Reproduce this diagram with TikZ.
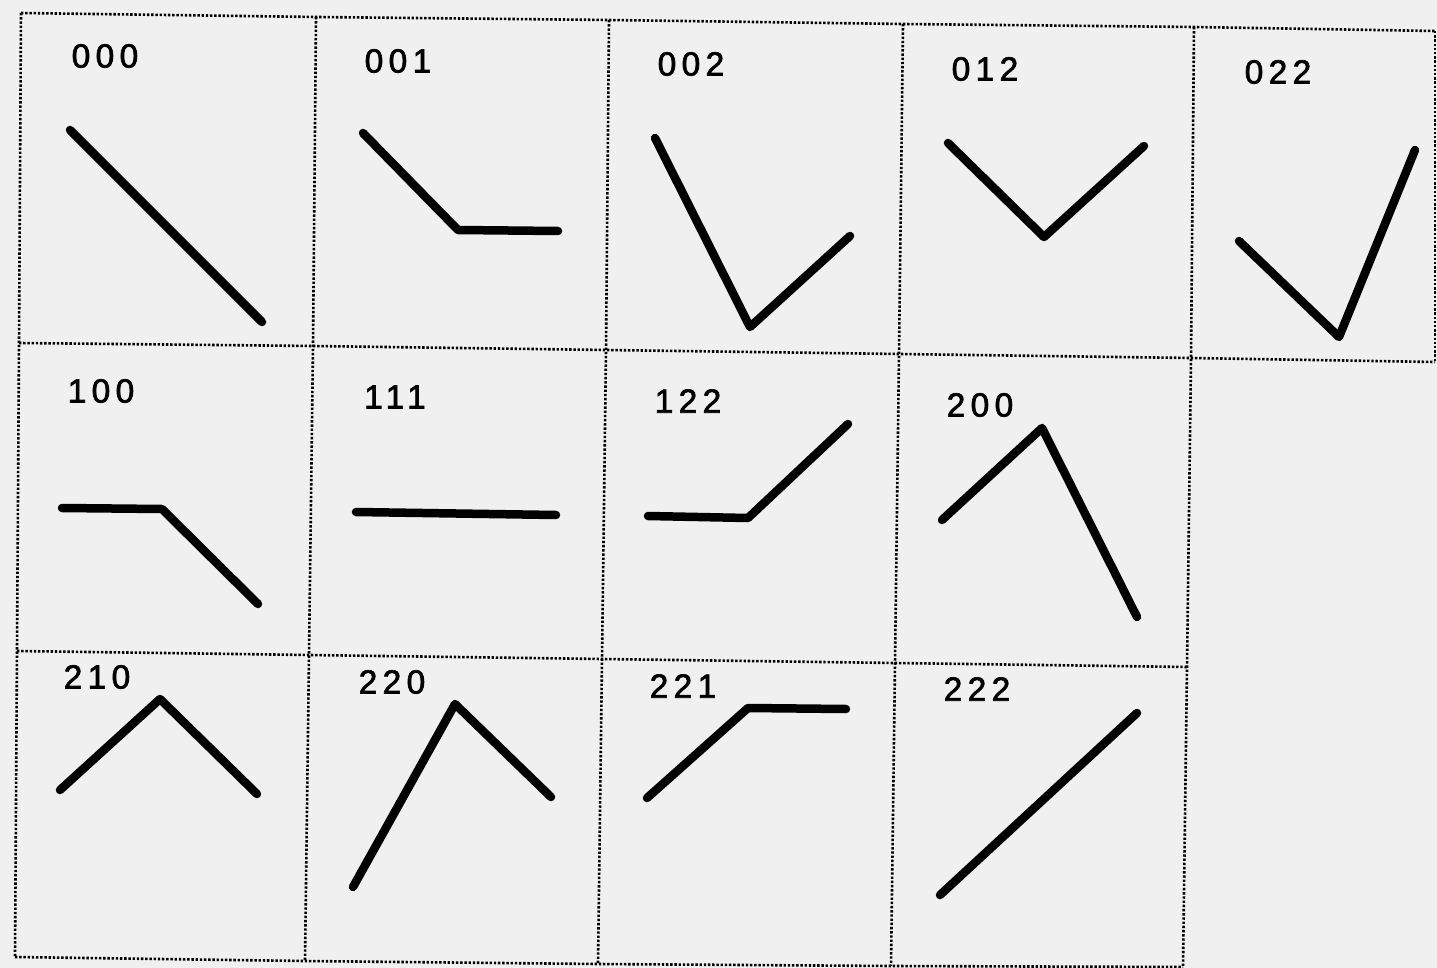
\documentclass[tikz,border=0pt]{standalone}
\usepackage{fontspec}
\newfontfamily\codefont[LetterSpace=16,FakeBold=2]{Liberation Sans}

\begin{document}
\begin{tikzpicture}[x=1pt, y=-1pt,
    every node/.style={inner sep=0pt, outer sep=0pt},
    paper/.style   ={fill=black!6},
    cellrule/.style={draw=black, line width=2.6pt, dash pattern=on 2.4pt off 1.8pt},
    trace/.style   ={draw=black, line width=8.5pt, line cap=round, line join=round},
    codelbl/.style ={font=\codefont\fontsize{33.5}{40}\selectfont}]

\useasboundingbox (0,0) rectangle (1437,968);
\fill[paper] (0,0) rectangle (1437,968);

% ── grid corners (the scan is turned a little) ─────────────────────────
\coordinate (r0c0) at (21,13);   \coordinate (r0c1) at (316,17);
\coordinate (r0c2) at (609,20);  \coordinate (r0c3) at (903,24);
\coordinate (r0c4) at (1194,27); \coordinate (r0c5) at (1435,31);
\coordinate (r1c0) at (19,343);  \coordinate (r1c1) at (313,346);
\coordinate (r1c2) at (606,350); \coordinate (r1c3) at (899,354);
\coordinate (r1c4) at (1191,358);\coordinate (r1c5) at (1435,362);
\coordinate (r2c0) at (17,651);  \coordinate (r2c1) at (309,655);
\coordinate (r2c2) at (602,659); \coordinate (r2c3) at (895,663);
\coordinate (r2c4) at (1187,667);
\coordinate (r3c0) at (15,957);  \coordinate (r3c1) at (305,961);
\coordinate (r3c2) at (598,964); \coordinate (r3c3) at (891,966);
\coordinate (r3c4) at (1183,967);

% ── dotted cell borders ────────────────────────────────────────────────
\draw[cellrule] (r0c0) -- (r0c1) -- (r0c2) -- (r0c3) -- (r0c4) -- (r0c5);
\draw[cellrule] (r1c0) -- (r1c1) -- (r1c2) -- (r1c3) -- (r1c4) -- (r1c5);
\draw[cellrule] (r2c0) -- (r2c1) -- (r2c2) -- (r2c3) -- (r2c4);
\draw[cellrule] (r3c0) -- (r3c1) -- (r3c2) -- (r3c3) -- (r3c4);
\foreach \c in {0,...,4}
  \draw[cellrule] (r0c\c) -- (r1c\c) -- (r2c\c) -- (r3c\c);
\draw[cellrule] (r0c5) -- (r1c5);

% ── codes ──────────────────────────────────────────────────────────────
\node[codelbl] (t000) at (105,56)  {000};
\node[codelbl] (t001) at (398,61)  {001};
\node[codelbl] (t002) at (691,64)  {002};
\node[codelbl] (t012) at (985,69)  {012};
\node[codelbl] (t022) at (1278,72) {022};
\node[codelbl] (t100) at (101,391) {100};
\node[codelbl] (t111) at (395,397) {111};
\node[codelbl] (t122) at (688,401) {122};
\node[codelbl] (t200) at (980,405) {200};
\node[codelbl] (t210) at (97,677)  {210};
\node[codelbl] (t220) at (392,682) {220};
\node[codelbl] (t221) at (683,686) {221};
\node[codelbl] (t222) at (977,689) {222};

% ── shapes ─────────────────────────────────────────────────────────────
\draw[trace] (70,130) -- (262,322);
\draw[trace] (363,133) -- (458,230) -- (558,231);
\draw[trace] (655,138) -- (750,327) -- (850,236);
\draw[trace] (948,143) -- (1044,237) -- (1144,146);
\draw[trace] (1239,241) -- (1339,337) -- (1415,150);

\draw[trace] (62,508) -- (162,509) -- (258,604);
\draw[trace] (356,512) -- (556,515);
\draw[trace] (648,516) -- (748,518) -- (848,424);
\draw[trace] (942,520) -- (1042,428) -- (1137,617);

\draw[trace] (60,790) -- (160,699) -- (257,794);
\draw[trace] (353,887) -- (455,704) -- (551,797);
\draw[trace] (647,798) -- (748,708) -- (846,709);
\draw[trace] (940,895) -- (1137,713);
\end{tikzpicture}
\end{document}
